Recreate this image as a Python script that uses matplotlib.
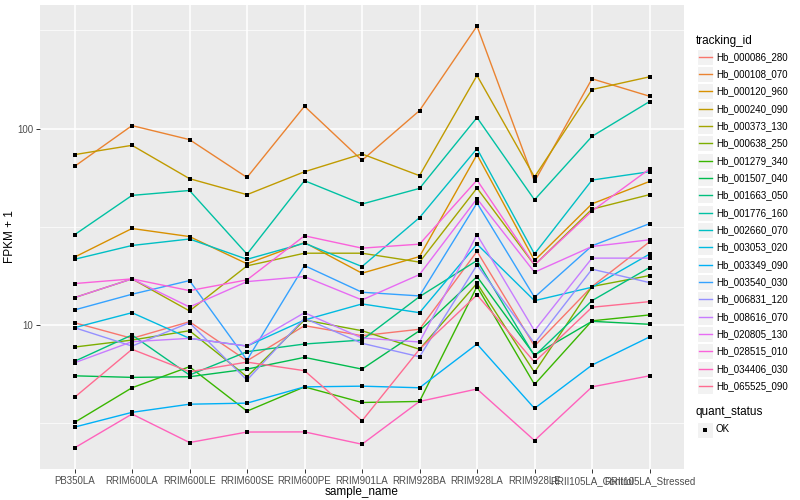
import matplotlib
matplotlib.use('Agg')
import matplotlib.pyplot as plt
from matplotlib.patches import Rectangle
from matplotlib.ticker import NullFormatter
import numpy as np

samples = ['PB350LA', 'RRIM600LA', 'RRIM600LE', 'RRIM600SE', 'RRIM600PE', 'RRIM901LA',
           'RRIM928BA', 'RRIM928LA', 'RRIM928LE', 'RRII105LA_Control', 'RRII105LA_Stressed']

tracking_ids = ['Hb_000086_280', 'Hb_000108_070', 'Hb_000120_960', 'Hb_000240_090',
                'Hb_000373_130', 'Hb_000638_250', 'Hb_001279_340', 'Hb_001507_040',
                'Hb_001663_050', 'Hb_001776_160', 'Hb_002660_070', 'Hb_003053_020',
                'Hb_003349_090', 'Hb_003540_030', 'Hb_006831_120', 'Hb_008616_070',
                'Hb_020805_130', 'Hb_028515_010', 'Hb_034406_030', 'Hb_065525_090']

# FPKM + 1 per sample
hb_000086_280 = [10.27, 8.55, 10.39, 6.57, 9.92, 8.82, 9.51, 23.7, 7.81, 15.7, 26.5]
hb_000108_070 = [64.2, 103.6, 87.9, 56.4, 130.0, 68.9, 123.5, 332.7, 53.8, 179.3, 146.2]
hb_000120_960 = [22.15, 31.0, 28.2, 20.5, 26.3, 18.35, 22.3, 73.7, 21.3, 41.4, 53.8]
hb_000240_090 = [73.7, 82.2, 55.6, 46.1, 60.3, 74.3, 57.6, 186.4, 56.7, 158.1, 183.5]
hb_000373_130 = [13.78, 17.17, 11.79, 20.0, 23.2, 23.2, 20.9, 49.8, 20.2, 38.9, 46.1]
hb_000638_250 = [7.72, 8.38, 9.35, 5.45, 10.6, 9.35, 7.52, 16.3, 5.74, 15.7, 17.85]
hb_001279_340 = [3.19, 4.79, 6.13, 3.64, 4.84, 4.03, 4.08, 15.7, 4.98, 10.5, 11.25]
hb_001507_040 = [5.51, 5.41, 5.45, 5.96, 6.84, 5.96, 9.35, 17.64, 7.03, 10.44, 10.08]
hb_001663_050 = [6.53, 8.89, 5.56, 7.31, 8.0, 8.38, 13.94, 21.3, 6.95, 13.3, 19.6]
hb_001776_160 = [28.8, 45.7, 48.4, 22.95, 54.3, 41.3, 49.6, 113.8, 43.4, 91.3, 137.3]
hb_002660_070 = [21.6, 25.4, 27.4, 21.6, 26.1, 19.84, 35.2, 79.1, 23.0, 54.7, 60.3]
hb_003053_020 = [9.69, 11.55, 8.55, 7.81, 10.6, 12.8, 11.55, 25.8, 13.3, 15.57, 22.95]
hb_003349_090 = [3.02, 3.59, 3.95, 4.0, 4.84, 4.88, 4.79, 8.0, 3.76, 6.25, 8.69]
hb_003540_030 = [11.93, 14.34, 16.83, 6.63, 20.07, 14.68, 14.06, 41.8, 13.84, 25.3, 32.8]
hb_006831_120 = [9.69, 7.81, 10.27, 5.24, 10.82, 8.07, 6.89, 20.2, 8.07, 19.24, 16.44]
hb_008616_070 = [6.42, 8.22, 8.55, 7.81, 11.55, 8.58, 8.19, 28.8, 9.35, 21.9, 21.9]
hb_020805_130 = [13.78, 17.17, 12.35, 16.63, 17.64, 13.41, 18.06, 43.95, 18.57, 25.1, 27.15]
hb_028515_010 = [16.25, 17.17, 14.96, 16.97, 28.45, 24.62, 25.8, 54.7, 20.2, 38.03, 62.3]
hb_034406_030 = [2.366, 3.52, 2.52, 2.85, 2.855, 2.47, 4.08, 4.72, 2.58, 4.84, 5.51]
hb_065525_090 = [4.28, 7.52, 5.78, 6.47, 5.85, 3.25, 7.52, 14.23, 6.47, 12.31, 13.15]

series = [hb_000086_280, hb_000108_070, hb_000120_960, hb_000240_090, hb_000373_130,
          hb_000638_250, hb_001279_340, hb_001507_040, hb_001663_050, hb_001776_160,
          hb_002660_070, hb_003053_020, hb_003349_090, hb_003540_030, hb_006831_120,
          hb_008616_070, hb_020805_130, hb_028515_010, hb_034406_030, hb_065525_090]

# ggplot default hue palette for 20 levels
colours = ['#F8766D', '#EA8331', '#D89000', '#C09B00', '#A3A500', '#7CAE00', '#39B600',
           '#00BB4E', '#00BF7D', '#00C1A3', '#00BFC4', '#00BAE0', '#00B0F6', '#35A2FF',
           '#9590FF', '#C77CFF', '#E76BF3', '#FA62DB', '#FF62BC', '#FF6C91']

plt.rcParams['font.family'] = ['Liberation Sans', 'DejaVu Sans']

W, H = 800, 500
fig = plt.figure(figsize=(8, 5), dpi=100)
ax = fig.add_axes([40 / W, 1 - 469 / H, (684 - 40) / W, (469 - 5) / H])
ax.set_facecolor('#EBEBEB')
ax.set_axisbelow(True)

x = np.arange(len(samples))
for vals, col in zip(series, colours):
    ax.plot(x, vals, color=col, lw=1.0, zorder=3)
for vals in series:
    ax.scatter(x, vals, marker='s', s=8, color='black', linewidths=0, zorder=4)

ax.set_yscale('log')
allv = np.concatenate([np.array(s) for s in series])
lo, hi = np.log10(allv.min()), np.log10(allv.max())
pad = 0.05 * (hi - lo)
ax.set_ylim(10 ** (lo - pad), 10 ** (hi + pad))
ax.set_xlim(-0.6, len(samples) - 0.4)

ax.set_xticks(x)
ax.set_xticklabels(samples)
ax.set_yticks([10, 100])
ax.set_yticklabels(['10', '100'])
ax.set_yticks([10 ** 0.5, 10 ** 1.5, 10 ** 2.5], minor=True)
ax.yaxis.set_minor_formatter(NullFormatter())
ax.grid(which='major', color='white', lw=1.1)
ax.grid(which='minor', axis='y', color='white', lw=0.5)
ax.tick_params(which='major', length=3, width=0.7, color='#333333',
               labelsize=7, labelcolor='#4D4D4D', pad=2)
ax.tick_params(which='minor', length=0)
for s in ax.spines.values():
    s.set_visible(False)

ax.set_xlabel('sample_name', fontsize=8.5, labelpad=0)
ax.set_ylabel('FPKM + 1', fontsize=8.5, labelpad=1)

# legends, drawn in pixel coordinates
lg = fig.add_axes([0, 0, 1, 1])
lg.set_xlim(0, W)
lg.set_ylim(H, 0)
lg.axis('off')

lg.text(696, 40.7, 'tracking_id', fontsize=8.5, va='center', ha='left')
step = 17.33
for i, (name, col) in enumerate(zip(tracking_ids, colours)):
    yc = 56.7 + i * step
    lg.add_patch(Rectangle((697, yc - 8), 16, 16, facecolor='#F2F2F2', edgecolor='white', lw=0.8))
    lg.plot([698.5, 711.5], [yc, yc], color=col, lw=1.0)
    lg.text(716.5, yc, name, fontsize=7, va='center', ha='left')

lg.text(696, 412.3, 'quant_status', fontsize=8.5, va='center', ha='left')
lg.add_patch(Rectangle((697, 421.5), 16, 16, facecolor='#F2F2F2', edgecolor='white', lw=0.8))
lg.scatter([705], [429.5], marker='s', s=8, color='black', linewidths=0)
lg.text(716, 429.5, 'OK', fontsize=7, va='center', ha='left')

fig.savefig('out.png', dpi=100)
